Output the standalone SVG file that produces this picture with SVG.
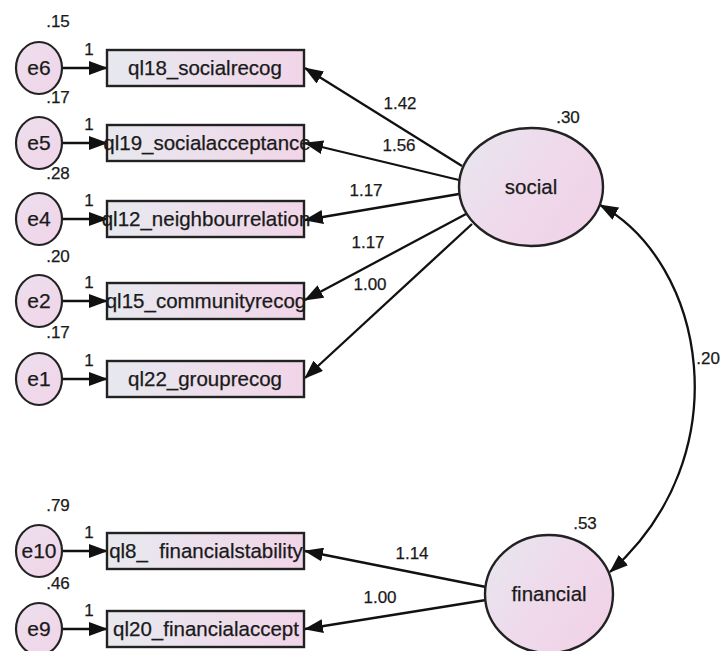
<svg xmlns="http://www.w3.org/2000/svg" width="723" height="651" viewBox="0 0 723 651">
  <defs>
    <linearGradient id="boxFill" x1="0" y1="0" x2="1" y2="0">
      <stop offset="0" stop-color="#e7e9ef"/>
      <stop offset="1" stop-color="#f1d5e8"/>
    </linearGradient>
    <linearGradient id="latentFill" x1="0" y1="0" x2="1" y2="0.6">
      <stop offset="0" stop-color="#e6e8ef"/>
      <stop offset="0.5" stop-color="#eedbec"/>
      <stop offset="1" stop-color="#f1d3e8"/>
    </linearGradient>
    <linearGradient id="errFill" x1="0" y1="0" x2="1" y2="1">
      <stop offset="0" stop-color="#ecdfee"/>
      <stop offset="1" stop-color="#f1d4e8"/>
    </linearGradient>
    <marker id="arrow" markerUnits="userSpaceOnUse" markerWidth="20" markerHeight="14" refX="18" refY="7" orient="auto-start-reverse">
      <path d="M0,0 L19,7 L0,14 Z" fill="#111"/>
    </marker>
    <style>
      text { font-family: "Liberation Sans", Arial, sans-serif; fill: #1a1a1a; stroke: #1a1a1a; stroke-width: 0.25; }
      .lbl { font-size: 20.5px; text-anchor: middle; }
      .elbl { font-size: 21px; text-anchor: middle; }
      .num { font-size: 17px; text-anchor: middle; }
      .one { font-size: 17px; text-anchor: middle; }
      .box { fill: url(#boxFill); stroke: #222; stroke-width: 2.4; }
      .err { fill: url(#errFill); stroke: #222; stroke-width: 2.2; }
      .lat { fill: url(#latentFill); stroke: #222; stroke-width: 2.4; }
      .edge { stroke: #111; stroke-width: 2.3; fill: none; marker-end: url(#arrow); }
    </style>
  </defs>
  <rect width="723" height="651" fill="#ffffff"/>

  <!-- paths: error terms, loadings, covariance -->
  <g id="connectors">
    <line class="edge" x1="62" y1="68" x2="107" y2="68"/>
    <line class="edge" x1="62" y1="143" x2="107" y2="143"/>
    <line class="edge" x1="62" y1="219" x2="107" y2="219"/>
    <line class="edge" x1="62" y1="301" x2="107" y2="301"/>
    <line class="edge" x1="62" y1="379" x2="107" y2="379"/>
    <line class="edge" x1="62" y1="551" x2="107" y2="551"/>
    <line class="edge" x1="62" y1="629" x2="107" y2="629"/>

    <line class="edge" x1="462" y1="166" x2="305" y2="68"/>
    <line class="edge" x1="459" y1="180" x2="305" y2="143"/>
    <line class="edge" x1="459" y1="194" x2="305" y2="220"/>
    <line class="edge" x1="466" y1="214" x2="305" y2="300"/>
    <line class="edge" x1="472" y1="224" x2="305" y2="378"/>

    <line class="edge" x1="486" y1="587" x2="305" y2="551"/>
    <line class="edge" x1="486" y1="600" x2="305" y2="629"/>

    <path class="edge" style="marker-start: url(#arrow)" d="M600,205 C705,262 742,455 610,572"/>

    <text class="one" x="89" y="55">1</text>
    <text class="one" x="89" y="130">1</text>
    <text class="one" x="89" y="206">1</text>
    <text class="one" x="89" y="288">1</text>
    <text class="one" x="89" y="366">1</text>
    <text class="one" x="89" y="538">1</text>
    <text class="one" x="89" y="616">1</text>

    <text class="num" x="400" y="109">1.42</text>
    <text class="num" x="399" y="151">1.56</text>
    <text class="num" x="366" y="196">1.17</text>
    <text class="num" x="368" y="248">1.17</text>
    <text class="num" x="370" y="290">1.00</text>
    <text class="num" x="412" y="559">1.14</text>
    <text class="num" x="380" y="603">1.00</text>
    <text class="num" x="720" y="364" style="text-anchor: end">.20</text>
  </g>

  <!-- error terms -->
  <g id="e6"><ellipse class="err" cx="39" cy="68" rx="23" ry="26"/><text class="elbl" x="39" y="75">e6</text><text class="num" x="58" y="27">.15</text></g>
  <g id="e5"><ellipse class="err" cx="39" cy="143" rx="23" ry="26"/><text class="elbl" x="39" y="150">e5</text><text class="num" x="58" y="103">.17</text></g>
  <g id="e4"><ellipse class="err" cx="39" cy="219" rx="23" ry="26"/><text class="elbl" x="39" y="226">e4</text><text class="num" x="58" y="179">.28</text></g>
  <g id="e2"><ellipse class="err" cx="39" cy="301" rx="23" ry="26"/><text class="elbl" x="39" y="308">e2</text><text class="num" x="58" y="262">.20</text></g>
  <g id="e1"><ellipse class="err" cx="39" cy="379" rx="23" ry="26"/><text class="elbl" x="39" y="386">e1</text><text class="num" x="58" y="338">.17</text></g>
  <g id="e10"><ellipse class="err" cx="39" cy="551" rx="23" ry="26"/><text class="elbl" x="39" y="558">e10</text><text class="num" x="58" y="511">.79</text></g>
  <g id="e9"><ellipse class="err" cx="39" cy="629" rx="23" ry="26"/><text class="elbl" x="39" y="636">e9</text><text class="num" x="58" y="589">.46</text></g>

  <!-- observed indicators -->
  <g id="ql18"><rect class="box" x="107" y="50" width="197" height="36"/><text class="lbl" x="205" y="75">ql18_socialrecog</text></g>
  <g id="ql19"><rect class="box" x="107" y="125" width="197" height="36"/><text class="lbl" x="207" y="150">ql19_socialacceptance</text></g>
  <g id="ql12"><rect class="box" x="107" y="201" width="197" height="36"/><text class="lbl" x="206" y="226">ql12_neighbourrelation</text></g>
  <g id="ql15"><rect class="box" x="107" y="283" width="197" height="36"/><text class="lbl" x="206" y="308">ql15_communityrecog</text></g>
  <g id="ql22"><rect class="box" x="107" y="361" width="197" height="36"/><text class="lbl" x="205" y="386">ql22_grouprecog</text></g>
  <g id="ql8"><rect class="box" x="107" y="533" width="197" height="36"/><text class="lbl" x="206" y="558" xml:space="preserve">ql8_  financialstability</text></g>
  <g id="ql20"><rect class="box" x="107" y="611" width="197" height="36"/><text class="lbl" x="206" y="636">ql20_financialaccept</text></g>

  <!-- latent factors -->
  <g id="social"><ellipse class="lat" cx="531" cy="187" rx="72" ry="59"/><text class="lbl" x="531" y="194">social</text><text class="num" x="568" y="123">.30</text></g>
  <g id="financial"><ellipse class="lat" cx="549" cy="594" rx="64" ry="59"/><text class="lbl" x="549" y="601">financial</text><text class="num" x="585" y="529">.53</text></g>
</svg>
